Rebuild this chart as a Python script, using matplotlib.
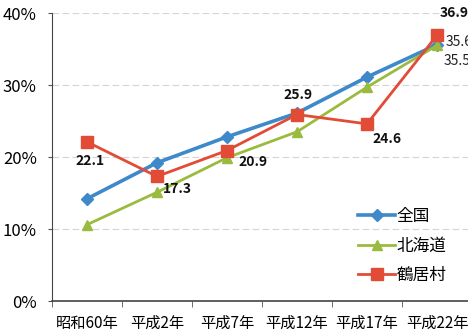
import matplotlib.pyplot as plt
from matplotlib.ticker import FixedLocator, FuncFormatter

plt.rcParams['font.family'] = ['Noto Sans CJK JP', 'DejaVu Sans']

# Share of population aged 65+ (%)
years = ["昭和60年", "平成2年", "平成7年", "平成12年", "平成17年", "平成22年"]
zenkoku = [14.2, 19.2, 22.8, 26.1, 31.1, 35.6]
hokkaido = [10.6, 15.1, 19.9, 23.5, 29.7, 35.5]
tsurui = [22.1, 17.3, 20.9, 25.9, 24.6, 36.9]

blue = "#3d89c9"
green = "#9bbb3f"
red = "#e24b36"

fig = plt.figure(figsize=(4.68, 3.34), dpi=100)
ax = fig.add_axes([52 / 468, 33 / 334, 420 / 468, 288 / 334])

x = range(len(years))
ax.plot(x, zenkoku, color=blue, lw=2.6, marker="D", ms=6, label="全国", zorder=3)
ax.plot(x, hokkaido, color=green, lw=2.0, marker="^", ms=7, label="北海道", zorder=3)
ax.plot(x, tsurui, color=red, lw=2.0, marker="s", ms=8.5, label="鶴居村", zorder=4)

# value labels for 鶴居村 and the last points
lab = dict(fontsize=10, fontweight="bold", color="#111111")
ax.annotate(f"{tsurui[0]}", (0, tsurui[0]), xytext=(-8, -17), textcoords="offset points", **lab)
ax.annotate(f"{tsurui[1]}", (1, tsurui[1]), xytext=(4, -12), textcoords="offset points", **lab)
ax.annotate(f"{tsurui[2]}", (2, tsurui[2]), xytext=(8, -11), textcoords="offset points", **lab)
ax.annotate(f"{tsurui[3]}", (3, tsurui[3]), xytext=(-10, 11), textcoords="offset points", **lab)
ax.annotate(f"{tsurui[4]}", (4, tsurui[4]), xytext=(4, -14), textcoords="offset points", **lab)
ax.annotate(f"{tsurui[5]}", (5, tsurui[5]), xytext=(2, 13), textcoords="offset points", **lab)
ax.annotate(f"{zenkoku[5]}", (5, zenkoku[5]), xytext=(6, -1), textcoords="offset points",
            fontsize=10, color="#222222")
ax.annotate(f"{hokkaido[5]}", (5, hokkaido[5]), xytext=(5, -14), textcoords="offset points",
            fontsize=10, color="#222222")

ax.set_xlim(-0.5, 5.5)
ax.set_ylim(0, 40)
ax.set_yticks([0, 10, 20, 30, 40])
ax.yaxis.set_major_formatter(FuncFormatter(lambda v, p: f"{int(v)}%"))
ax.set_xticks(list(x))
ax.set_xticklabels(years)
ax.xaxis.set_minor_locator(FixedLocator([i - 0.5 for i in range(7)]))
ax.tick_params(axis="x", which="major", length=0, labelsize=11, pad=10)
ax.tick_params(axis="x", which="minor", length=4, direction="out", color="#555555")
ax.tick_params(axis="y", length=3, labelsize=12, color="#555555", pad=8)

ax.grid(axis="y", color="#d4d4d4", lw=0.8, ls=(0, (6, 3)))
ax.set_axisbelow(True)
for s in ["top", "right"]:
    ax.spines[s].set_visible(False)
ax.spines["left"].set_color("#444444")
ax.spines["bottom"].set_color("#444444")
ax.spines["bottom"].set_linewidth(1.2)

ax.legend(loc="lower right", bbox_to_anchor=(0.955, 0.035), frameon=False, fontsize=12,
          handlelength=2.2, labelspacing=0.75, handletextpad=0.1, borderaxespad=0)

fig.savefig("out.png", dpi=100)
